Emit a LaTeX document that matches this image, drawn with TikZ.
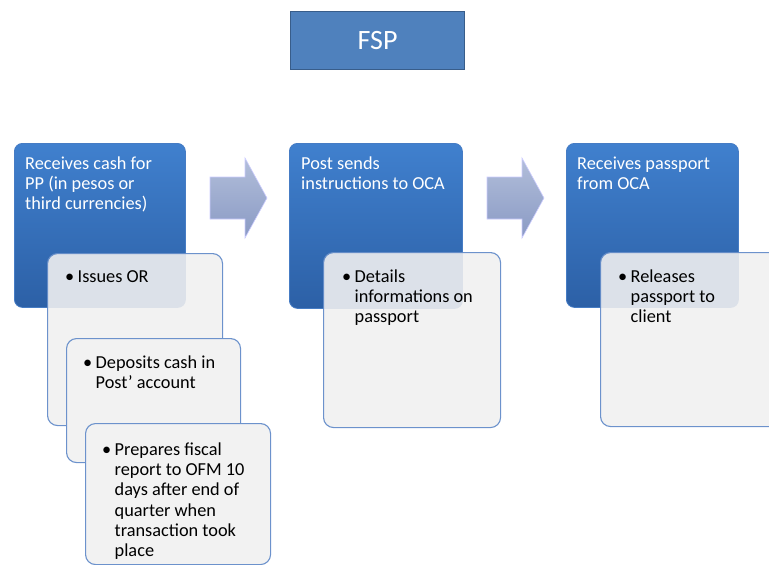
\documentclass[tikz,border=0pt]{standalone}
\usepackage{fontspec}
\setmainfont{Carlito}
\definecolor{bluetop}{RGB}{64,128,206}
\definecolor{bluebot}{RGB}{44,96,166}
\definecolor{blueedge}{RGB}{70,124,196}
\definecolor{whiteedge}{RGB}{108,146,204}
\definecolor{arrtop}{RGB}{178,190,218}
\definecolor{arrbot}{RGB}{138,154,196}
\definecolor{fspfill}{RGB}{79,129,189}
\definecolor{fspedge}{RGB}{56,93,138}
\newcommand\itemtab[1]{\makebox[12.5pt][l]{\textbullet}\begin{tabular}[t]{@{}l@{}}#1\end{tabular}}
\newcommand\plaintab[1]{\begin{tabular}[t]{@{}l@{}}#1\end{tabular}}
\tikzset{
  bluebox/.style={draw=blueedge, line width=0.8pt, rounded corners=8pt, top color=bluetop, bottom color=bluebot, anchor=north west, inner sep=0pt},
  whitebox/.style={draw=whiteedge, line width=1.1pt, rounded corners=10pt, fill=white!95!black, anchor=north west, inner sep=0pt},
  btext/.style={anchor=north west, inner sep=0pt, text=white, font=\fontsize{18.3}{20.3}\selectfont},
  wtext/.style={anchor=north west, inner sep=0pt, text=black, font=\fontsize{18.3}{20.3}\selectfont},
  flowarrow/.style={draw=white!80!blue, line width=0.6pt, top color=arrtop, bottom color=arrbot, line join=miter},
  tint/.style={fill=bluebot, fill opacity=0.11, rounded corners=10pt},
}
\newcommand\tintover[2]{%
  \begin{scope}
    \clip[rounded corners=8pt] (#1.north west) rectangle (#1.south east);
    \fill[tint] (#2.north west) rectangle (#2.south east);
  \end{scope}}
\begin{document}
\begin{tikzpicture}[x=1pt,y=-1pt]
\useasboundingbox (0,0) rectangle (769,565);
\clip (0,0) rectangle (769,565);
% title
\node[draw=fspedge, line width=1.2pt, fill=fspfill, minimum width=174pt, minimum height=58pt, anchor=north west, inner sep=0pt, text=white, font=\fontsize{28}{32}\selectfont] (fsp) at (290,11) {FSP};
% arrows
\coordinate (a1s) at (210,177);
\coordinate (a2s) at (487,177);
\path[flowarrow] (a1s) -- ++(35,0) -- ++(0,-19) -- ++(22,40) -- ++(-22,40) -- ++(0,-19) -- ++(-35,0) -- cycle;
\path[flowarrow] (a2s) -- ++(35,0) -- ++(0,-19) -- ++(22,40) -- ++(-22,40) -- ++(0,-19) -- ++(-35,0) -- cycle;
% column 1
\node[bluebox, minimum width=171pt, minimum height=164pt] (b1) at (14,143) {};
\node[btext] (b1t) at (25,154.8) {\plaintab{Receives cash for\\PP (in pesos or\\third currencies)}};
\node[whitebox, minimum width=175pt, minimum height=172pt] (w1) at (47,253) {};
\tintover{b1}{w1}
\node[wtext] (w1t) at (65,267.8) {\itemtab{Issues OR}};
\node[whitebox, minimum width=174pt, minimum height=124pt] (w2) at (66,338) {};
\node[wtext] (w2t) at (83,353.8) {\itemtab{Deposits cash in\\Post’ account}};
\node[whitebox, minimum width=185pt, minimum height=141pt] (w3) at (85,423) {};
\node[wtext] (w3t) at (102,440.8) {\itemtab{Prepares fiscal\\report to OFM 10\\days after end of\\quarter when\\transaction took\\place}};
% column 2
\node[bluebox, minimum width=173pt, minimum height=165pt] (b2) at (289,143) {};
\node[btext] (b2t) at (301,154.8) {\plaintab{Post sends\\instructions to OCA}};
\node[whitebox, minimum width=177pt, minimum height=175pt] (w4) at (323,252) {};
\tintover{b2}{w4}
\node[wtext] (w4t) at (342,267.8) {\itemtab{Details\\informations on\\passport}};
% column 3
\node[bluebox, minimum width=172pt, minimum height=164pt] (b3) at (566,143) {};
\node[btext] (b3t) at (577,154.8) {\plaintab{Receives passport\\from OCA}};
\node[whitebox, minimum width=180pt, minimum height=174pt] (w5) at (600,252) {};
\tintover{b3}{w5}
\node[wtext] (w5t) at (618,267.8) {\itemtab{Releases\\passport to\\client}};
\end{tikzpicture}
\end{document}
